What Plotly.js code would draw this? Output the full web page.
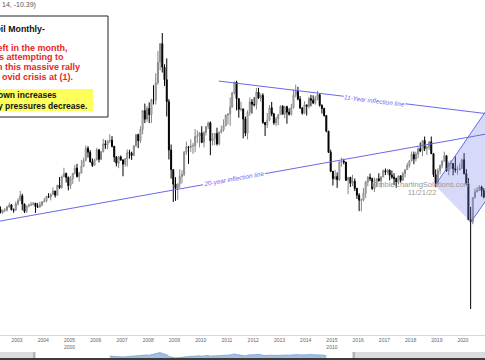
<!DOCTYPE html>
<html><head><meta charset="utf-8">
<script src="https://cdn.plot.ly/plotly-3.0.1.min.js"></script>
<style>html,body{margin:0;padding:0;background:#fff;overflow:hidden}#chart{width:485px;height:360px}</style>
</head><body><div id="chart"></div>
<script>
// Monthly WTI crude (continuous), March 2002 .. October 2020
const firstYear = 2002, firstMonthIndex = 2; // March 2002
const openP = [
 21.6,26.3,27.3,25.3,26.9,27.0,29.0,30.5,27.2,26.9,
 31.2,33.5,36.6,31.0,25.8,29.6,30.2,30.5,31.6,29.2,29.1,30.4,
 32.5,33.0,36.2,35.8,37.4,39.9,37.0,43.8,42.1,49.6,51.8,49.1,
 43.5,48.2,51.8,55.4,49.7,52.0,56.5,60.6,68.9,66.2,59.8,57.3,
 61.0,67.9,61.4,66.6,71.9,71.3,73.9,74.4,70.3,62.9,58.7,63.1,
 61.1,58.1,61.8,65.9,65.7,64.0,70.7,78.2,74.0,81.7,94.5,88.7,
 96.0,91.8,101.8,101.6,113.5,127.4,140.0,124.1,115.5,100.6,67.8,54.4,
 44.6,41.7,44.8,49.7,51.1,66.3,69.9,69.5,70.6,70.6,77.0,77.3,
 79.4,72.9,79.7,83.8,86.2,74.0,75.6,79.0,71.9,80.0,81.4,84.1,
 91.4,92.2,97.0,106.7,113.9,102.7,95.4,95.7,88.8,79.2,93.2,100.4,
 98.8,98.5,107.1,103.0,104.9,86.5,85.0,88.1,96.5,92.2,86.2,88.9,
 91.8,97.5,92.1,97.2,93.5,92.0,96.6,105.0,107.7,102.3,96.4,92.7,
 98.4,97.5,102.6,101.6,99.7,102.7,105.4,98.2,96.0,91.2,80.5,66.2,
 53.3,48.2,49.8,47.6,59.6,60.3,59.5,47.1,49.2,45.1,46.6,41.7,
 37.0,33.6,33.8,38.3,45.9,49.1,48.3,41.6,44.7,48.2,46.9,49.4,
 53.7,52.8,54.0,50.6,49.3,48.3,46.0,50.2,47.2,51.7,54.4,57.4,
 60.4,64.7,61.6,64.9,68.6,67.0,74.2,68.8,69.8,73.3,65.3,50.9,
 45.4,53.8,57.2,60.1,63.9,53.5,58.5,58.6,55.1,54.1,54.2,55.2,
 61.1,51.6,44.8,20.5,18.8,35.5,39.3,40.3,42.6,40.2
];
const highP = [
 26.6,28.4,29.4,27.0,28.2,29.9,32.0,31.0,28.0,32.7,
 35.0,39.99,38.0,31.3,30.1,31.4,32.4,32.4,31.7,31.7,32.6,33.0,
 35.2,36.4,38.4,38.4,42.3,40.0,44.0,49.4,50.5,55.7,52.4,49.7,
 50.0,52.2,57.6,58.3,52.9,60.9,62.5,70.85,70.3,67.7,62.0,61.8,
 69.2,68.2,67.1,75.3,74.4,74.0,78.4,77.2,70.4,63.6,63.7,64.0,
 61.1,62.4,68.1,67.9,66.6,70.7,78.8,78.8,83.9,94.7,99.3,97.6,
 100.1,102.6,111.8,119.9,135.1,140.4,147.27,126.0,130.0,102.3,71.5,54.6,
 49.3,45.0,54.7,54.0,67.0,73.4,70.4,75.0,72.6,82.0,81.0,80.0,
 83.95,80.5,83.8,87.1,87.2,79.3,79.3,82.9,80.0,84.4,88.6,92.0,
 92.6,103.4,106.9,113.99,114.83,102.7,100.6,95.7,90.5,94.7,103.4,102.4,
 103.7,110.0,110.0,106.0,106.3,86.6,92.9,98.3,100.4,93.0,90.3,91.9,
 98.2,98.2,97.4,97.8,96.1,99.1,108.9,112.2,110.7,104.4,96.6,100.8,
 98.6,103.8,105.2,104.9,104.6,107.7,105.8,98.7,96.4,91.2,80.8,67.9,
 53.5,54.2,52.5,59.9,62.6,61.8,59.7,49.3,49.4,50.9,48.4,42.0,
 38.4,34.7,41.9,46.8,50.2,51.7,49.0,49.0,48.4,51.9,49.9,54.5,
 55.2,54.9,54.6,53.8,52.0,49.0,50.4,50.4,52.9,54.6,59.0,60.5,
 66.7,66.7,66.6,69.6,72.9,74.5,76.9,70.4,73.7,76.9,65.4,54.6,
 55.4,57.8,60.7,66.6,63.9,59.9,60.9,58.8,63.4,57.0,58.7,61.9,
 65.65,54.7,48.7,29.1,35.6,41.6,42.5,43.8,43.5,41.9
];
const lowP = [
 21.3,23.0,24.6,24.3,25.5,25.9,28.5,26.6,25.1,26.4,
 30.0,33.0,26.7,24.9,25.1,28.8,29.9,30.2,25.0,28.3,28.5,29.5,
 32.2,32.2,35.1,33.5,37.3,35.4,36.7,41.3,41.6,49.2,45.6,40.3,
 41.3,44.7,51.2,49.0,46.2,51.9,56.2,60.0,62.6,59.1,56.2,57.2,
 60.8,59.3,60.9,66.1,68.5,68.2,72.5,69.4,59.5,56.6,55.4,60.3,
 49.9,56.5,56.5,61.9,61.0,63.6,69.8,69.0,72.4,78.4,86.0,87.0,
 86.1,86.2,98.7,98.7,112.2,122.0,120.4,111.3,90.5,61.3,48.3,32.4,
 33.2,33.98,42.0,45.0,49.9,64.5,58.3,66.4,65.1,66.2,72.4,69.5,
 72.4,69.5,77.6,82.0,64.2,70.8,71.1,70.8,70.8,79.0,80.2,84.0,
 85.1,84.1,96.6,105.5,94.6,89.7,94.0,75.7,77.1,74.95,91.0,92.5,
 97.3,95.4,102.4,100.7,85.4,77.3,82.7,87.3,90.7,84.9,84.1,84.6,
 91.7,92.0,89.3,85.6,91.2,91.1,95.9,103.6,101.5,95.6,91.8,92.3,
 91.2,96.0,97.4,98.9,98.6,101.5,97.2,92.5,90.4,79.8,65.7,52.7,
 43.6,47.4,42.0,46.7,56.5,58.0,46.7,37.75,42.6,43.2,39.9,34.5,
 26.2,26.05,32.9,35.2,43.0,46.7,40.6,39.2,42.5,46.2,42.2,49.4,
 50.7,51.2,47.1,48.2,43.8,42.05,44.4,45.6,46.6,49.1,54.2,55.8,
 60.1,58.1,59.9,62.1,66.3,63.6,67.0,64.4,67.7,64.9,49.4,42.4,
 44.4,51.2,55.3,60.0,53.0,50.6,54.7,50.5,52.4,50.99,54.0,55.0,
 51.3,44.0,20.0,-40.32,17.3,34.7,39.0,40.1,36.1,34.9
];
const closeP = [
 26.31,27.29,25.31,26.86,27.02,28.98,30.45,27.22,26.89,31.20,
 33.51,36.60,31.04,25.80,29.56,30.19,30.54,31.57,29.20,29.11,30.41,32.52,
 33.05,36.16,35.76,37.38,39.88,37.05,43.80,42.12,49.64,51.76,49.13,43.45,
 48.20,51.75,55.40,49.72,51.97,56.50,60.57,68.94,66.24,59.76,57.32,61.04,
 67.92,61.41,66.63,71.88,71.29,73.93,74.40,70.26,62.91,58.73,63.13,61.05,
 58.14,61.79,65.87,65.71,64.01,70.68,78.21,74.04,81.66,94.53,88.71,95.98,
 91.75,101.84,101.58,113.46,127.35,140.00,124.08,115.46,100.64,67.81,54.43,44.60,
 41.68,44.76,49.66,51.12,66.31,69.89,69.45,70.61,70.61,77.00,77.28,79.36,
 72.89,79.66,83.76,86.15,73.97,75.63,78.95,71.92,79.97,81.43,84.11,91.38,
 92.19,96.97,106.72,113.93,102.70,95.42,95.70,88.81,79.20,93.19,100.36,98.83,
 98.48,107.07,103.02,104.87,86.53,84.96,88.06,96.47,92.19,86.24,88.91,91.82,
 97.49,92.05,97.23,93.46,91.97,96.56,105.03,107.65,102.33,96.38,92.72,98.42,
 97.49,102.59,101.58,99.74,102.71,105.37,98.17,95.96,91.16,80.54,66.15,53.27,
 48.24,49.76,47.60,59.63,60.30,59.47,47.12,49.20,45.09,46.59,41.65,37.04,
 33.62,33.75,38.34,45.92,49.10,48.33,41.60,44.70,48.24,46.86,49.44,53.72,
 52.81,54.01,50.60,49.33,48.32,46.04,50.17,47.23,51.67,54.38,57.40,60.42,
 64.73,61.64,64.94,68.57,67.04,74.15,68.76,69.80,73.25,65.31,50.93,45.41,
 53.79,57.22,60.14,63.91,53.50,58.47,58.58,55.10,54.07,54.18,55.17,61.06,
 51.56,44.76,20.48,18.84,35.49,39.27,40.27,42.61,40.22,35.79
];
const tickYears = ['2003','2004','2005','2006','2007','2008','2009','2010','2011','2012','2013','2014','2015','2016','2017','2018','2019','2020'];
const tickLabels = ['2003','2004','2005<br>2000','2006','2007','2008','2009','2010','2011','2012','2013','2014','2015<br>2010','2016','2017','2018','2019','2020'];
const navStart = '2006-07-01', navEnd = '2014-10-31';

// month dates (mid-month)
const dates = closeP.map((_, i) => {
  const k = firstMonthIndex + i;
  const y = firstYear + Math.floor(k / 12), m = k % 12 + 1;
  return y + '-' + String(m).padStart(2, '0') + '-15';
});
const navX = [], navY = [];
dates.forEach((d, i) => { if (d >= navStart && d <= navEnd) { navX.push(d); navY.push(closeP[i]); } });

const BLUE = 'rgb(104,104,236)';
const FONT = 'Liberation Sans, Arial, sans-serif';
const H = 360, W = 485;
const py = px => 1 - px / H, pxX = px => px / W;

const traces = [
  { type: 'scatter', mode: 'lines', x: ['2018-12-06', '2020-04-19', '2022-03-03', '2022-03-03', '2018-12-06'],
    y: [43.6, 18.8, 66.4, 128.1, 43.6], fill: 'toself', fillcolor: 'rgba(120,130,230,0.30)',
    line: { width: 0 }, hoverinfo: 'skip' },
  { type: 'scatter', mode: 'lines', x: ['2018-12-06', '2022-03-03'], y: [43.6, 128.1], line: { color: BLUE, width: 1 } },
  { type: 'scatter', mode: 'lines', x: ['2020-04-19', '2022-03-03'], y: [18.8, 66.4], line: { color: BLUE, width: 1 } },
  { type: 'scatter', mode: 'lines', x: ['2002-01-01', '2021-06-01'], y: [18.3, 80.3], line: { color: BLUE, width: 1 } },
  { type: 'scatter', mode: 'lines', x: ['2010-09-10', '2021-06-01'], y: [114.6, 91.3], line: { color: BLUE, width: 1 } },
  { type: 'scatter', mode: 'text', x: ['2018-05-22', '2018-06-08'], y: [43.9, 38.2],
    text: ['KimbleChartingSolutions.com', '11/21/22'], textposition: 'middle center',
    textfont: { family: FONT, size: 7.5, color: '#999999' } },
  { type: 'scatter', mode: 'lines', x: navX, y: navY, yaxis: 'y2', fill: 'tozeroy',
    fillcolor: 'rgba(130,170,215,0.75)', line: { color: 'rgb(120,160,210)', width: 0.8 } },
  { type: 'candlestick', x: dates, open: openP, high: highP, low: lowP, close: closeP,
    whiskerwidth: 0,
    increasing: { line: { color: '#858585', width: 1 }, fillcolor: '#ffffff' },
    decreasing: { line: { color: '#000000', width: 1 }, fillcolor: '#000000' } }
];

const redLine = (t, xr, yc) => ({ xref: 'paper', yref: 'paper', x: pxX(xr), y: py(yc), xanchor: 'right', yanchor: 'middle',
  text: '<b>' + t + '</b>', showarrow: false, font: { family: FONT, size: 9, color: '#e8261e' } });
const blkLine = (t, xr, yc, s) => ({ xref: 'paper', yref: 'paper', x: pxX(xr), y: py(yc), xanchor: 'right', yanchor: 'middle',
  text: '<b>' + t + '</b>', showarrow: false, font: { family: FONT, size: s, color: '#111' } });

const layout = {
  width: W, height: H, margin: { l: 0, r: 0, t: 0, b: 0, autoexpand: false },
  paper_bgcolor: '#fff', plot_bgcolor: '#fff', showlegend: false, hovermode: false,
  xaxis: { type: 'date', range: ['2002-05-09', '2020-11-01'], showgrid: false, zeroline: false,
    showline: true, linecolor: '#d6d6d6', linewidth: 1, ticks: '',
    tickvals: tickYears.map(y => y + '-01-01'), ticktext: tickLabels,
    tickfont: { family: FONT, size: 5, color: '#666' }, rangeslider: { visible: false } },
  yaxis: { domain: [1 - 335 / H, 1], range: [-58.0, 169.7], visible: false, showgrid: false, zeroline: false },
  yaxis2: { domain: [2 / H, 8 / H], range: [40, 150], visible: false, anchor: 'x' },
  shapes: [
    { type: 'rect', xref: 'paper', yref: 'paper', x0: -0.05, x1: pxX(35), y0: 2 / H, y1: 8 / H, fillcolor: '#dcdcdc', line: { width: 0 } },
    { type: 'rect', xref: 'paper', yref: 'paper', x0: pxX(353), x1: 1.02, y0: 2 / H, y1: 8 / H, fillcolor: '#dcdcdc', line: { width: 0 } },
    { type: 'rect', xref: 'paper', yref: 'paper', x0: pxX(33), x1: pxX(35.5), y0: 2 / H, y1: 8 / H, fillcolor: '#b4b4b4', line: { width: 0 } },
    { type: 'rect', xref: 'paper', yref: 'paper', x0: pxX(352.5), x1: pxX(355), y0: 2 / H, y1: 8 / H, fillcolor: '#b4b4b4', line: { width: 0 } },
    { type: 'rect', xref: 'paper', yref: 'paper', x0: -0.05, x1: 1.05, y0: -0.01, y1: 2 / H, fillcolor: '#3c3c3c', line: { width: 0 } },
    { type: 'rect', xref: 'paper', yref: 'paper', x0: -0.05, x1: pxX(108), y0: py(117), y1: py(16), fillcolor: '#ffffff', line: { color: '#222', width: 1 } },
    { type: 'rect', xref: 'paper', yref: 'paper', x0: -0.05, x1: pxX(93), y0: py(111), y1: py(89), fillcolor: '#ffff5c', line: { width: 0 } }
  ],
  annotations: [
    { xref: 'paper', yref: 'paper', x: 0, y: py(5), xanchor: 'left', yanchor: 'middle', text: '14, -10.39)',
      showarrow: false, font: { family: FONT, size: 7, color: '#555' } },
    blkLine('Oil Monthly-', 47, 29, 8.8),
    redLine('left in the month,', 70, 48),
    redLine('s attempting to', 66, 57),
    redLine('n this massive rally', 82, 66.5),
    redLine('ovid crisis at (1).', 75, 77),
    blkLine('own increases', 58.5, 95, 8.5),
    blkLine('y pressures decrease.', 89, 106, 8.5),
    { x: '2016-08-09', y: 101.7, text: '<i>11-Year inflection line</i>', showarrow: false, textangle: 6.9,
      bgcolor: '#fff', borderpad: 0, font: { family: FONT, size: 6.4, color: BLUE } },
    { x: '2011-04-09', y: 48.0, text: '<i>20-year inflection line</i>', showarrow: false, textangle: -10.1,
      bgcolor: '#fff', borderpad: 0, font: { family: FONT, size: 6.4, color: BLUE } }
  ]
};

Plotly.newPlot('chart', traces, layout, { staticPlot: true, displayModeBar: false });
</script>
</body></html>
